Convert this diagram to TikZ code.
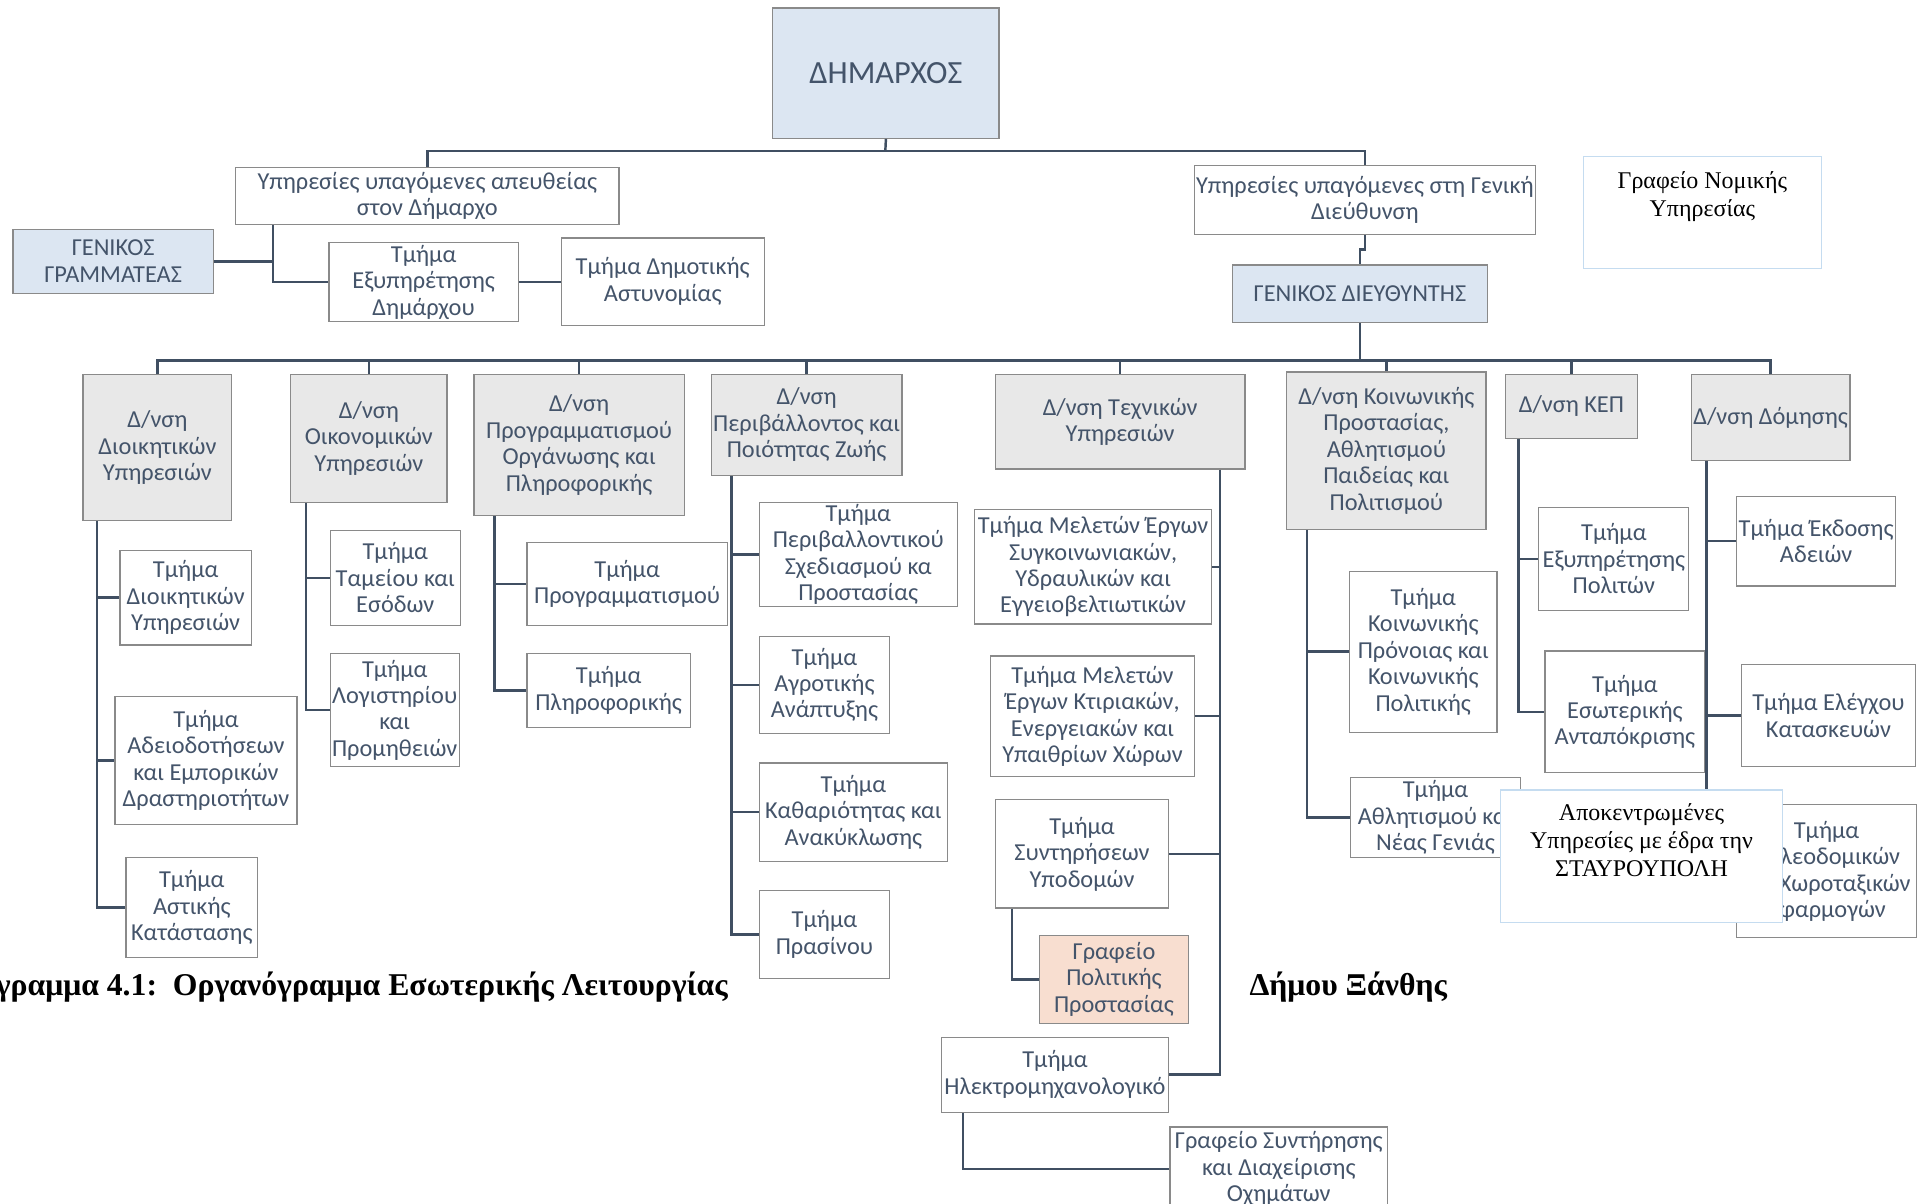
\documentclass[tikz,border=0pt]{standalone}
\usepackage{fontspec}
\setmainfont{Carlito}
\newfontfamily\serifgr{Liberation Serif}
\definecolor{lineC}{HTML}{404F62}
\definecolor{borderC}{HTML}{8A8A8A}
\definecolor{textC}{HTML}{44546A}
\definecolor{blueF}{HTML}{DCE6F2}
\definecolor{grayF}{HTML}{E8E8E8}
\definecolor{peachF}{HTML}{F8DED0}
\definecolor{lbC}{HTML}{C5DCF0}
\newcommand\mybox[7]{\node[#1, minimum width={#5pt-#3pt}, minimum height={#6pt-#4pt}] (#2) at (#3,#4) {#7};}
\tikzset{
  conn/.style={draw=lineC, line width=2pt},
  box/.style={draw=borderC, line width=1pt, fill=white, text=textC, align=center, inner sep=0pt, anchor=north west, font=\fontsize{19.8}{21.5}\selectfont},
  bluebox/.style={box, fill=blueF},
  graybox/.style={box, fill=grayF},
  peachbox/.style={box, fill=peachF},
  sbox/.style={draw=lbC, line width=1pt, fill=white, anchor=north west, inner sep=0pt},
  stext/.style={font=\serifgr\fontsize{19.5}{23}\selectfont, align=center, anchor=north, text=black, inner sep=0pt},
  captext/.style={font=\serifgr\bfseries\fontsize{25.8}{30}\selectfont, text=black, inner sep=0pt},
}
\begin{document}
\begin{tikzpicture}[x=1pt, y=-1pt]
\useasboundingbox (0,0) rectangle (1568,979);
\clip (0,0) rectangle (1568,979);
\fill[white] (0,0) rectangle (1568,979);

% top level
\mybox{bluebox, font=\fontsize{26.3}{29}\selectfont}{dim}{628}{6}{812}{112}{ΔΗΜΑΡΧΟΣ}
\mybox{box}{ypd}{191}{136}{503}{182}{Υπηρεσίες υπαγόμενες απευθείας\\στον Δήμαρχο}
\mybox{bluebox}{gg}{10}{186}{173}{238}{ΓΕΝΙΚΟΣ\\ΓΡΑΜΜΑΤΕΑΣ}
\mybox{box}{tex}{267}{197}{421}{261}{Τμήμα\\Εξυπηρέτησης\\Δημάρχου}
\mybox{box}{tda}{456}{193}{621}{264}{Τμήμα Δημοτικής\\Αστυνομίας}
\mybox{box}{ygd}{971}{134}{1248}{190}{Υπηρεσίες υπαγόμενες στη Γενική\\Διεύθυνση}
\mybox{sbox}{nom}{1287}{127}{1481}{218}{}
\node[stext] (nomt) at ([yshift=-12pt]nom.north) {Γραφείο Νομικής\\Υπηρεσίας};
\mybox{bluebox}{gd}{1002}{215}{1209}{262}{ΓΕΝΙΚΟΣ ΔΙΕΥΘΥΝΤΗΣ}

% directorates
\mybox{graybox}{d1}{67}{304}{188}{423}{Δ/νση\\Διοικητικών\\Υπηρεσιών}
\mybox{graybox}{d2}{236}{304}{363}{408}{Δ/νση\\Οικονομικών\\Υπηρεσιών}
\mybox{graybox}{d3}{385}{304}{556}{419}{Δ/νση\\Προγραμματισμού\\Οργάνωσης και\\Πληροφορικής}
\mybox{graybox}{d4}{578}{304}{733}{386}{Δ/νση\\Περιβάλλοντος και\\Ποιότητας Ζωής}
\mybox{graybox}{d5}{809}{304}{1012}{381}{Δ/νση Τεχνικών\\Υπηρεσιών}
\mybox{graybox}{d6}{1046}{302}{1208}{430}{Δ/νση Κοινωνικής\\Προστασίας,\\Αθλητισμού\\Παιδείας και\\Πολιτισμού}
\mybox{graybox}{d7}{1224}{304}{1331}{356}{Δ/νση ΚΕΠ}
\mybox{graybox}{d8}{1375}{304}{1504}{374}{Δ/νση Δόμησης}

% column 1
\mybox{box}{t11}{97}{447}{204}{524}{Τμήμα\\Διοικητικών\\Υπηρεσιών}
\mybox{box}{t12}{93}{566}{241}{670}{Τμήμα\\Αδειοδοτήσεων\\και Εμπορικών\\Δραστηριοτήτων}
\mybox{box}{t13}{102}{697}{209}{778}{Τμήμα\\Αστικής\\Κατάστασης}
% column 2
\mybox{box}{t21}{268}{431}{374}{508}{Τμήμα\\Ταμείου και\\Εσόδων}
\mybox{box}{t22}{268}{531}{373}{623}{Τμήμα\\Λογιστηρίου\\και\\Προμηθειών}
% column 3
\mybox{box}{t31}{428}{441}{591}{508}{Τμήμα\\Προγραμματισμού}
\mybox{box}{t32}{428}{531}{561}{591}{Τμήμα\\Πληροφορικής}
% column 4
\mybox{box}{t41}{617}{408}{778}{493}{Τμήμα\\Περιβαλλοντικού\\Σχεδιασμού κα\\Προστασίας}
\mybox{box}{t42}{617}{517}{723}{596}{Τμήμα\\Αγροτικής\\Ανάπτυξης}
\mybox{box}{t43}{617}{620}{770}{700}{Τμήμα\\Καθαριότητας και\\Ανακύκλωσης}
\mybox{box}{t44}{617}{724}{723}{795}{Τμήμα\\Πρασίνου}
% column 5
\mybox{box}{t51}{792}{414}{985}{507}{Τμήμα Μελετών Έργων\\Συγκοινωνιακών,\\Υδραυλικών και\\Εγγειοβελτιωτικών}
\mybox{box}{t52}{805}{533}{971}{631}{Τμήμα Μελετών\\Έργων Κτιριακών,\\Ενεργειακών και\\Υπαιθρίων Χώρων}
\mybox{box}{t53}{809}{650}{950}{738}{Τμήμα\\Συντηρήσεων\\Υποδομών}
\mybox{peachbox}{t54}{845}{760}{966}{832}{Γραφείο\\Πολιτικής\\Προστασίας}
\mybox{box}{t55}{765}{843}{950}{904}{Τμήμα\\Ηλεκτρομηχανολογικό}
\mybox{box}{t56}{951}{916}{1128}{984}{Γραφείο Συντήρησης\\και Διαχείρισης\\Οχημάτων}
% column 6
\mybox{box}{t61}{1097}{464}{1217}{595}{Τμήμα\\Κοινωνικής\\Πρόνοιας και\\Κοινωνικής\\Πολιτικής}
\mybox{box}{t62}{1098}{632}{1236}{697}{Τμήμα\\Αθλητισμού και\\Νέας Γενιάς}
% column 7
\mybox{box}{t71}{1251}{412}{1373}{496}{Τμήμα\\Εξυπηρέτησης\\Πολιτών}
\mybox{box}{t72}{1256}{529}{1386}{628}{Τμήμα\\Εσωτερικής\\Ανταπόκρισης}
% column 8
\mybox{box}{t81}{1412}{403}{1541}{476}{Τμήμα Έκδοσης\\Αδειών}
\mybox{box}{t82}{1416}{540}{1557}{623}{Τμήμα Ελέγχου\\Κατασκευών}
\mybox{box}{t83}{1412}{654}{1558}{762}{Τμήμα\\Πολεοδομικών\\και Χωροταξικών\\Εφαρμογών}

% connectors
\coordinate (bus1) at (720,123);
\draw[conn] (dim.south) -- (bus1);
\draw[conn] (ypd.north) |- (bus1) -| (ygd.north);
\coordinate (tr0) at ([xshift=31pt]ypd.south west);
\draw[conn] (tr0) |- (tex.west);
\draw[conn] (gg.east) -- (gg.east -| tr0);
\draw[conn] (tex.east) -- (tex.east -| tda.west);
\draw[conn] (ygd.south) -- ++(0,12) -| (gd.north);
\coordinate (bus2) at (1106,293);
\draw[conn] (gd.south) -- (gd.south |- bus2);
\draw[conn] (d1.north) |- (bus2) -| (d8.north);
\foreach \d in {d2,d3,d4,d5,d6,d7} \draw[conn] (\d.north) -- (\d.north |- bus2);

\coordinate (c1) at ([xshift=12pt]d1.south west);
\draw[conn] (c1) |- (t11.west) (c1) |- (t12.west) (c1) |- (t13.west);
\coordinate (c2) at ([xshift=13pt]d2.south west);
\draw[conn] (c2) |- (t21.west) (c2) |- (t22.west);
\coordinate (c3) at ([xshift=17pt]d3.south west);
\draw[conn] (c3) |- (t31.west) (c3) |- (t32.west);
\coordinate (c4) at ([xshift=17pt]d4.south west);
\draw[conn] (c4) |- (t41.west) (c4) |- (t42.west) (c4) |- (t43.west) (c4) |- (t44.west);
\coordinate (c5) at ([xshift=-21pt]d5.south east);
\draw[conn] (c5) |- (t51.east) (c5) |- (t52.east) (c5) |- (t53.east) (c5) |- (t55.east);
\draw[conn] ([xshift=14pt]t53.south west) |- (t54.west);
\draw[conn] ([xshift=18pt]t55.south west) |- (t56.west);
\coordinate (c6) at ([xshift=17pt]d6.south west);
\draw[conn] (c6) |- (t61.west) (c6) |- (t62.west);
\coordinate (c7) at ([xshift=11pt]d7.south west);
\draw[conn] (c7) |- (t71.west) (c7) |- (t72.west);
\coordinate (c8) at ([xshift=13pt]d8.south west);
\draw[conn] (c8) |- (t81.west) (c8) |- (t82.west) (c8) |- (t83.west);

% overlay box
\mybox{sbox}{apo}{1220}{642}{1449}{750}{}
\node[stext] (apot) at ([yshift=-11pt]apo.north) {Αποκεντρωμένες\\Υπηρεσίες με έδρα την\\ΣΤΑΥΡΟΥΠΟΛΗ};

% caption
\node[captext, anchor=base east] (cap1) at (592,810) {γραμμα 4.1:\ \ Οργανόγραμμα Εσωτερικής Λειτουργίας};
\node[captext, anchor=base west] (cap2) at (1016,810) {Δήμου Ξάνθης};
\end{tikzpicture}
\end{document}
